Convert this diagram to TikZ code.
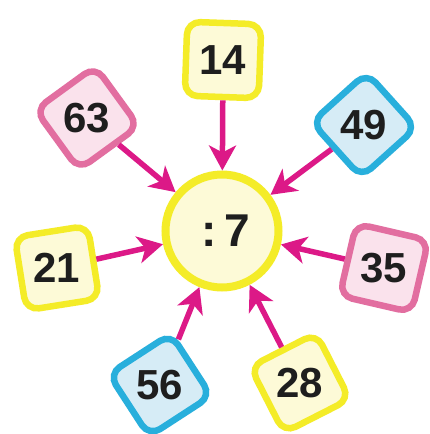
\documentclass[tikz,border=0pt]{standalone}
\usepackage{fontspec}
\setmainfont{Liberation Sans}
\usetikzlibrary{arrows.meta}
\definecolor{ylw}{RGB}{244,236,40}
\definecolor{ylwfill}{RGB}{253,250,215}
\definecolor{pnk}{RGB}{226,110,160}
\definecolor{pnkfill}{RGB}{250,226,236}
\definecolor{blu}{RGB}{40,175,220}
\definecolor{blufill}{RGB}{214,236,246}
\definecolor{mag}{RGB}{220,25,135}
\definecolor{txt}{RGB}{30,30,30}
\begin{document}
\begin{tikzpicture}[x=1pt,y=-1pt,
  box/.style={draw, line width=6.5pt, rounded corners=13pt, minimum size=74pt, inner sep=0pt},
  ybox/.style={box, draw=ylw, fill=ylwfill},
  pbox/.style={box, draw=pnk, fill=pnkfill},
  bbox/.style={box, draw=blu, fill=blufill},
  num/.style={text=txt, font=\bfseries\fontsize{42}{42}\selectfont, inner sep=0pt},
  arr/.style={draw=mag, line width=5.5pt, -{Stealth[length=25pt,width=27pt,inset=7pt,fill=mag]}}]
\useasboundingbox (0,0) rectangle (430,434);
\fill[white] (0,0) rectangle (430,434);
\node[circle, draw=ylw, fill=ylwfill, line width=8pt, minimum size=113pt] (c) at (222,231) {};
\node[num, font=\bfseries\fontsize{46}{46}\selectfont] (tc) at (226,231) {:\,7};
\node[ybox, rotate=-2] (b14) at (223,60) {};
\node[pbox, rotate=36] (b63) at (87,118) {};
\node[bbox, rotate=42] (b49) at (364,125) {};
\node[ybox, rotate=9] (b21) at (57,268) {};
\node[pbox, rotate=-13] (b35) at (384,268) {};
\node[bbox, rotate=33] (b56) at (160,385) {};
\node[ybox, rotate=27] (b28) at (300,383) {};
\node[num] (t14) at (b14) {14};
\node[num] (t63) at (b63) {63};
\node[num] (t49) at (b49) {49};
\node[num] (t21) at (b21) {21};
\node[num] (t35) at (b35) {35};
\node[num] (t56) at (b56) {56};
\node[num] (t28) at (b28) {28};
\foreach \b in {b14,b63,b49,b21,b35,b56,b28}
  \draw[arr] (\b) -- (c);
\end{tikzpicture}
\end{document}
